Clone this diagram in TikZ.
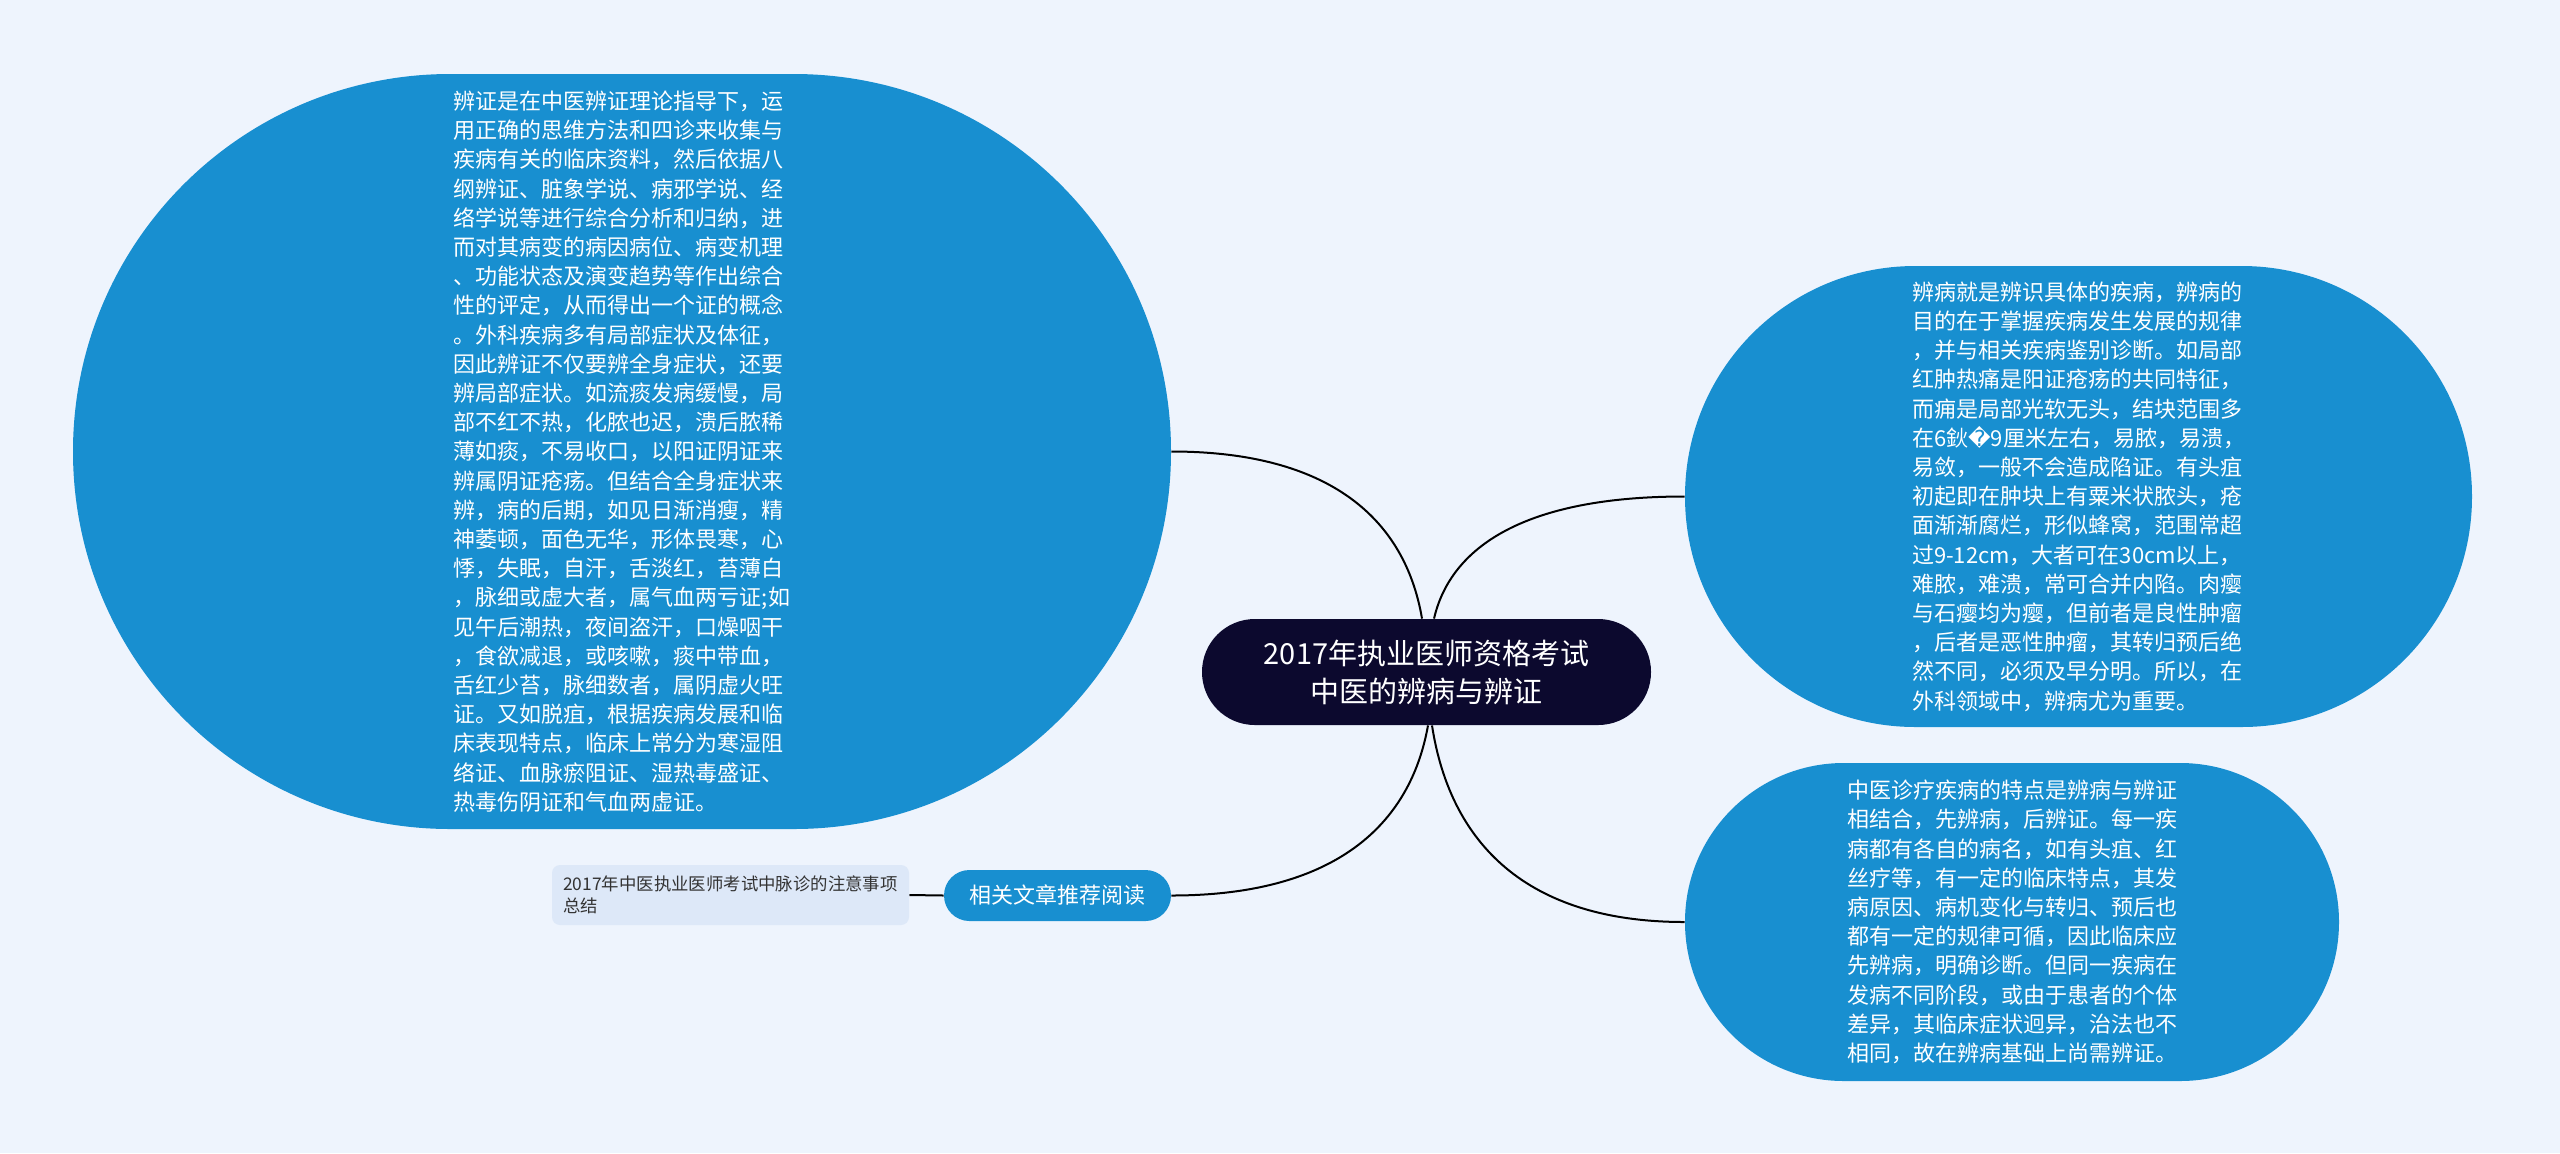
\documentclass[tikz,border=0pt]{standalone}
\usepackage{fontspec}
\setmainfont{Noto Sans CJK SC}
\newfontfamily\dejavu{DejaVu Sans}
\usetikzlibrary{calc}
\definecolor{pagebg}{HTML}{EEF4FD}
\definecolor{nodeblue}{HTML}{188FD0}
\definecolor{topicnavy}{HTML}{0C092E}
\definecolor{leafbg}{HTML}{DDE8F8}
\definecolor{leaftext}{HTML}{333333}
\pgfdeclarelayer{back}
\pgfsetlayers{back,main}
\tikzset{
  topic/.style={shape=rectangle, fill=topicnavy, text=white, rounded corners=26.4pt,
    minimum width=224.5pt, minimum height=53pt, inner sep=0pt, align=center,
    font=\fontsize{14.5pt}{19pt}\selectfont},
  bigbox/.style={shape=rectangle, fill=nodeblue, text=white, inner sep=0pt, align=left,
    font=\fontsize{11pt}{14.6pt}\selectfont},
  pill/.style={shape=rectangle, fill=nodeblue, text=white, inner sep=0pt, align=center,
    minimum width=113.5pt, minimum height=25.5pt, rounded corners=12.7pt,
    font=\fontsize{11pt}{13pt}\selectfont},
  leaf/.style={shape=rectangle, fill=leafbg, text=leaftext, inner sep=0pt, align=left,
    minimum width=178.5pt, minimum height=30pt, rounded corners=4pt,
    font=\fontsize{8.7pt}{10.8pt}\selectfont},
  conn/.style={draw=black, line width=1pt}
}
\begin{document}
\begin{tikzpicture}[x=0.5pt,y=-0.5pt]
\useasboundingbox (0,0) rectangle (2560,1153);

\node[topic] (c) at (1426.5,672) {2017年执业医师资格考试\\中医的辨病与辨证};

\node[bigbox, minimum width=549pt, minimum height=377.5pt, rounded corners=188.6pt] (L) at (622,451.5) {辨证是在中医辨证理论指导下，运\\
用正确的思维方法和四诊来收集与\\
疾病有关的临床资料，然后依据八\\
纲辨证、脏象学说、病邪学说、经\\
络学说等进行综合分析和归纳，进\\
而对其病变的病因病位、病变机理\\
、功能状态及演变趋势等作出综合\\
性的评定，从而得出一个证的概念\\
。外科疾病多有局部症状及体征，\\
因此辨证不仅要辨全身症状，还要\\
辨局部症状。如流痰发病缓慢，局\\
部不红不热，化脓也迟，溃后脓稀\\
薄如痰，不易收口，以阳证阴证来\\
辨属阴证疮疡。但结合全身症状来\\
辨，病的后期，如见日渐消瘦，精\\
神萎顿，面色无华，形体畏寒，心\\
悸，失眠，自汗，舌淡红，苔薄白\\
，脉细或虚大者，属气血两亏证;如\\
见午后潮热，夜间盗汗，口燥咽干\\
，食欲减退，或咳嗽，痰中带血，\\
舌红少苔，脉细数者，属阴虚火旺\\
证。又如脱疽，根据疾病发展和临\\
床表现特点，临床上常分为寒湿阻\\
络证、血脉瘀阻证、湿热毒盛证、\\
热毒伤阴证和气血两虚证。};

\node[bigbox, minimum width=393.5pt, minimum height=230.5pt, rounded corners=115.1pt] (R1) at (2078.5,496.5) {辨病就是辨识具体的疾病，辨病的\\
目的在于掌握疾病发生发展的规律\\
，并与相关疾病鉴别诊断。如局部\\
红肿热痛是阳证疮疡的共同特征，\\
而痈是局部光软无头，结块范围多\\
在6鈥{\dejavu\symbol{"FFFD}}9厘米左右，易脓，易溃，\\
易敛，一般不会造成陷证。有头疽\\
初起即在肿块上有粟米状脓头，疮\\
面渐渐腐烂，形似蜂窝，范围常超\\
过9-12cm，大者可在30cm以上，\\
难脓，难溃，常可合并内陷。肉瘿\\
与石瘿均为瘿，但前者是良性肿瘤\\
，后者是恶性肿瘤，其转归预后绝\\
然不同，必须及早分明。所以，在\\
外科领域中，辨病尤为重要。};

\node[bigbox, minimum width=327pt, minimum height=159pt, rounded corners=79.4pt] (R2) at (2012,922) {中医诊疗疾病的特点是辨病与辨证\\
相结合，先辨病，后辨证。每一疾\\
病都有各自的病名，如有头疽、红\\
丝疗等，有一定的临床特点，其发\\
病原因、病机变化与转归、预后也\\
都有一定的规律可循，因此临床应\\
先辨病，明确诊断。但同一疾病在\\
发病不同阶段，或由于患者的个体\\
差异，其临床症状迥异，治法也不\\
相同，故在辨病基础上尚需辨证。};

\node[pill] (P) at (1057.5,895.5) {相关文章推荐阅读};

\node[leaf] (F) at (730.5,895) {2017年中医执业医师考试中脉诊的注意事项\\总结};

\begin{pgfonlayer}{back}
\fill[pagebg] (0,0) rectangle (2560,1153);
\draw[conn] ($(c.north)+(-4.5,0)$) .. controls +(-17,-100) and +(158,0) .. (L.east);
\draw[conn] ($(c.north)+(7.5,0)$) .. controls +(17,-73) and +(-158,0) .. (R1.west);
\draw[conn] ($(c.south)+(1.5,0)$) .. controls +(-18,101) and +(162,0) .. (P.east);
\draw[conn] ($(c.south)+(5.5,0)$) .. controls +(18,117) and +(-159,0) .. (R2.west);
\draw[conn] (P.west) -- (F.east);
\end{pgfonlayer}
\end{tikzpicture}
\end{document}
